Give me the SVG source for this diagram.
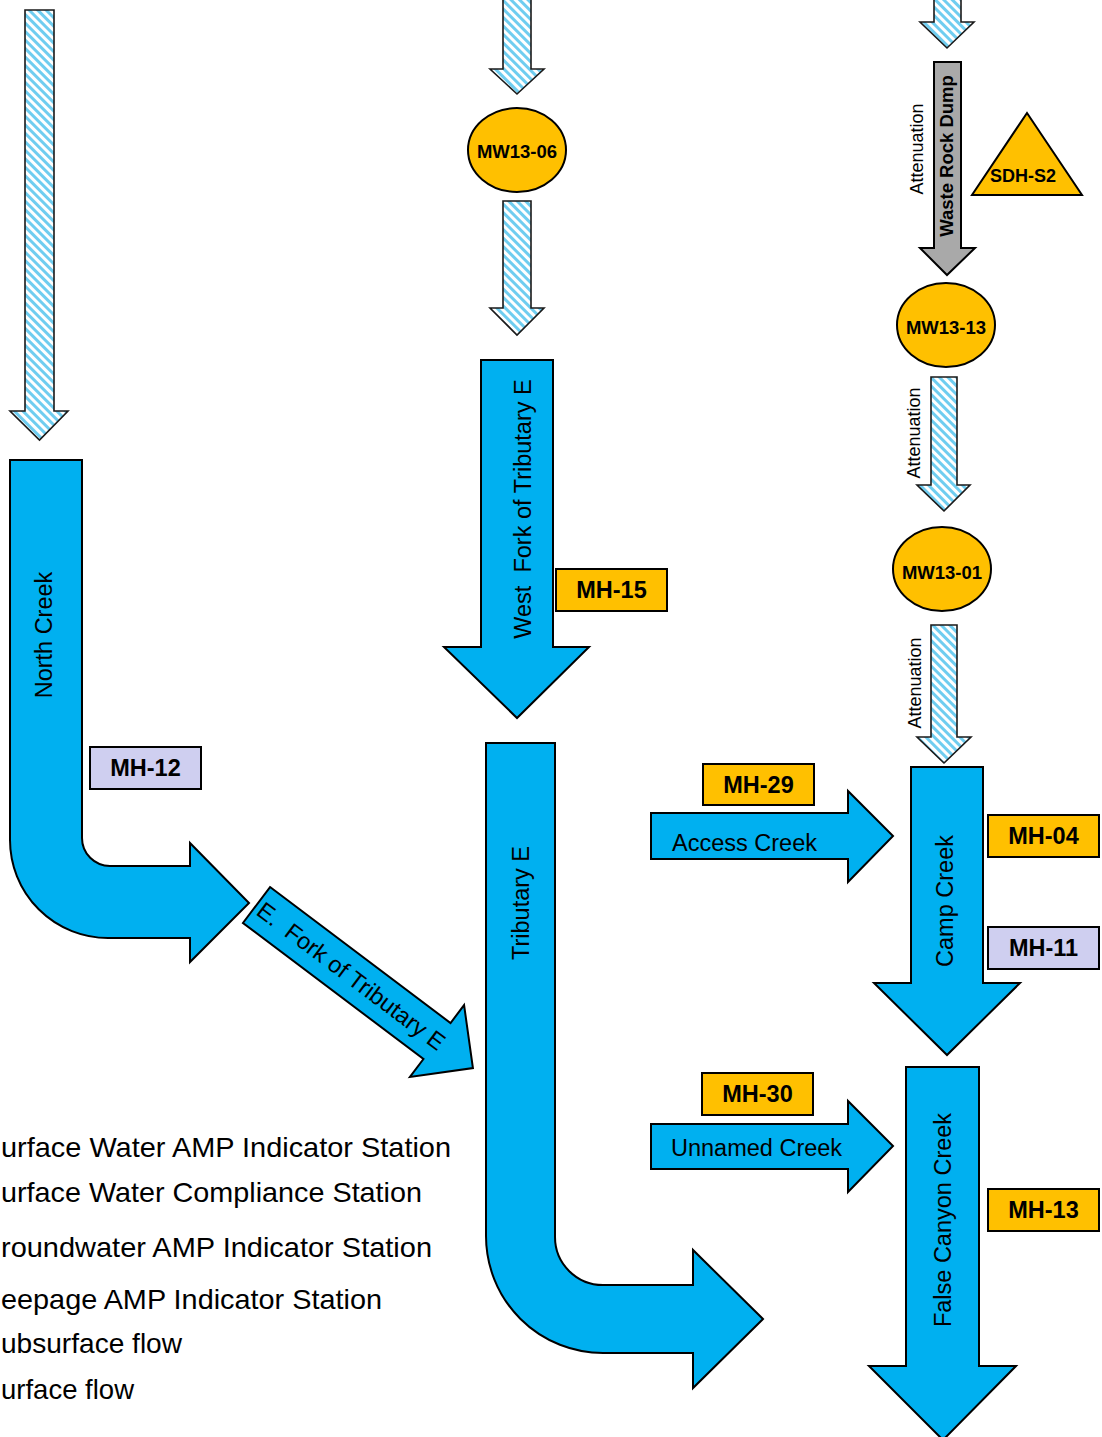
<svg xmlns="http://www.w3.org/2000/svg" width="1102" height="1437" viewBox="0 0 1102 1437">
<defs>
<pattern id="hatch" width="6" height="6" patternUnits="userSpaceOnUse" patternTransform="rotate(-45)">
<rect width="6" height="6" fill="#ffffff"/>
<rect width="3" height="6" fill="#6fcdf0"/>
</pattern>
<style>
.flow{fill:#00b0f0;stroke:#000;stroke-width:2;stroke-linejoin:miter}
.sub{fill:url(#hatch);stroke:#1a1a1a;stroke-width:1.6}
.gray{fill:#a9a9a9;stroke:#000;stroke-width:2}
.orange{fill:#ffc000;stroke:#000;stroke-width:2}
.lav{fill:#cfcff0;stroke:#000;stroke-width:2}
.t{font-family:"Liberation Sans",Arial,sans-serif;font-size:23.5px;fill:#000}
.b{font-family:"Liberation Sans",Arial,sans-serif;font-weight:bold;fill:#000}
.box{font-size:23.5px;text-anchor:middle}
.mw{font-size:18.5px;text-anchor:middle}
.att{font-family:"Liberation Sans",Arial,sans-serif;font-size:18px;fill:#000;text-anchor:middle}
.leg{font-family:"Liberation Sans",Arial,sans-serif;font-size:28.5px;fill:#000}
</style>
</defs>
<rect width="1102" height="1437" fill="#ffffff"/>

<g id="connectors">
<path class="sub" d="M25,10 H54 V411 H68 L39.5,440 L10,411 H25 Z"/>
<path class="sub" d="M503,-2 H531 V69 H544 L517,94 L490,69 H503 Z"/>
<path class="sub" d="M503,201 H531 V308 H544 L517,335 L490,308 H503 Z"/>
<path class="sub" d="M934,-2 H961 V22 H974 L947,48 L920,22 H934 Z"/>
<path class="sub" d="M931,377 H957 V485 H970 L944,511 L917,485 H931 Z"/>
<path class="sub" d="M931,625 H957 V737 H971 L944,763 L917,737 H931 Z"/>
<text class="att" transform="translate(923,149) rotate(-90)">Attenuation</text>
<text class="att" transform="translate(920,433) rotate(-90)">Attenuation</text>
<text class="att" transform="translate(921,683) rotate(-90)">Attenuation</text>
</g>

<g id="waste-rock-dump">
<path class="gray" d="M934,62 H961 V248 H975 L947,275 L920,248 H934 Z"/>
<text class="b" font-size="18.5" text-anchor="middle" transform="translate(953,156) rotate(-90)">Waste Rock Dump</text>
</g>

<g id="north-creek">
<path class="flow" d="M10,460 L82,460 L82,838 A28,28 0 0 0 110,866 L190,866 L190,843 L249,903 L190,962 L190,938 L108,938 A98,98 0 0 1 10,840 Z"/>
<text class="t" text-anchor="middle" transform="translate(52,635) rotate(-90)">North Creek</text>
</g>

<g id="e-fork" transform="translate(256.5,905) rotate(37)">
<path class="flow" d="M0,-22.5 L226,-22.5 L226,-45 L271,0 L226,45 L226,22.5 L0,22.5 Z"/>
<text class="t" x="4" y="8" xml:space="preserve">E.  Fork of Tributary E</text>
</g>

<g id="west-fork">
<path class="flow" d="M481,360 H553 V647 H589 L517,718 L444,647 H481 Z"/>
<text class="t" text-anchor="middle" xml:space="preserve" transform="translate(531,509) rotate(-90)">West  Fork of Tributary E</text>
</g>

<g id="tributary-e">
<path class="flow" d="M486,743 L555,743 L555,1237 A48,48 0 0 0 603,1285 L693,1285 L693,1250 L763,1319 L693,1388 L693,1353 L603,1353 A117,117 0 0 1 486,1236 Z"/>
<text class="t" text-anchor="middle" transform="translate(529,903) rotate(-90)">Tributary E</text>
</g>

<g id="access-creek">
<path class="flow" d="M651,813 H848 V791 L893,836 L848,882 V859 H651 Z"/>
<text class="t" x="672" y="851">Access Creek</text>
</g>

<g id="unnamed-creek">
<path class="flow" d="M651,1124 H848 V1101 L893,1146 L848,1192 V1169 H651 Z"/>
<text class="t" x="671" y="1156">Unnamed Creek</text>
</g>

<g id="camp-creek">
<path class="flow" d="M911,767 H983 V983 H1020 L947,1055 L874,983 H911 Z"/>
<text class="t" text-anchor="middle" transform="translate(953,901) rotate(-90)">Camp Creek</text>
</g>

<g id="false-canyon-creek">
<path class="flow" d="M906,1067 H979 V1366 H1016 L943,1440 L869,1366 H906 Z"/>
<text class="t" text-anchor="middle" transform="translate(951,1220) rotate(-90)">False Canyon Creek</text>
</g>

<g id="MW13-06">
<ellipse class="orange" cx="517" cy="150" rx="49" ry="42"/>
<text class="b mw" x="517" y="158">MW13-06</text>
</g>
<g id="MW13-13">
<ellipse class="orange" cx="946" cy="325" rx="49" ry="42"/>
<text class="b mw" x="946" y="334">MW13-13</text>
</g>
<g id="MW13-01">
<ellipse class="orange" cx="942" cy="569" rx="49" ry="42"/>
<text class="b mw" x="942" y="579">MW13-01</text>
</g>
<g id="SDH-S2">
<polygon class="orange" points="1027,113 1082,195 972,195"/>
<text class="b" font-size="18" text-anchor="middle" x="1023" y="182">SDH-S2</text>
</g>

<g id="MH-12">
<rect class="lav" x="90" y="747" width="111" height="42"/>
<text class="b box" x="145.5" y="776">MH-12</text>
</g>
<g id="MH-15">
<rect class="orange" x="556" y="569" width="111" height="42"/>
<text class="b box" x="611.5" y="598">MH-15</text>
</g>
<g id="MH-29">
<rect class="orange" x="703" y="764" width="111" height="41"/>
<text class="b box" x="758.5" y="793">MH-29</text>
</g>
<g id="MH-04">
<rect class="orange" x="988" y="815" width="111" height="42"/>
<text class="b box" x="1043.5" y="844">MH-04</text>
</g>
<g id="MH-11">
<rect class="lav" x="988" y="927" width="111" height="42"/>
<text class="b box" x="1043.5" y="956">MH-11</text>
</g>
<g id="MH-30">
<rect class="orange" x="702" y="1073" width="111" height="42"/>
<text class="b box" x="757.5" y="1102">MH-30</text>
</g>
<g id="MH-13">
<rect class="orange" x="988" y="1189" width="111" height="42"/>
<text class="b box" x="1043.5" y="1218">MH-13</text>
</g>

<g id="legend">
<text class="leg" x="1" y="1157" textLength="450" lengthAdjust="spacingAndGlyphs">urface Water AMP Indicator Station</text>
<text class="leg" x="1" y="1202" textLength="421" lengthAdjust="spacingAndGlyphs">urface Water Compliance Station</text>
<text class="leg" x="1" y="1257" textLength="431" lengthAdjust="spacingAndGlyphs">roundwater AMP Indicator Station</text>
<text class="leg" x="1" y="1309" textLength="381" lengthAdjust="spacingAndGlyphs">eepage AMP Indicator Station</text>
<text class="leg" x="1" y="1353" textLength="181" lengthAdjust="spacingAndGlyphs">ubsurface flow</text>
<text class="leg" x="1" y="1399" textLength="133" lengthAdjust="spacingAndGlyphs">urface flow</text>
</g>
</svg>
